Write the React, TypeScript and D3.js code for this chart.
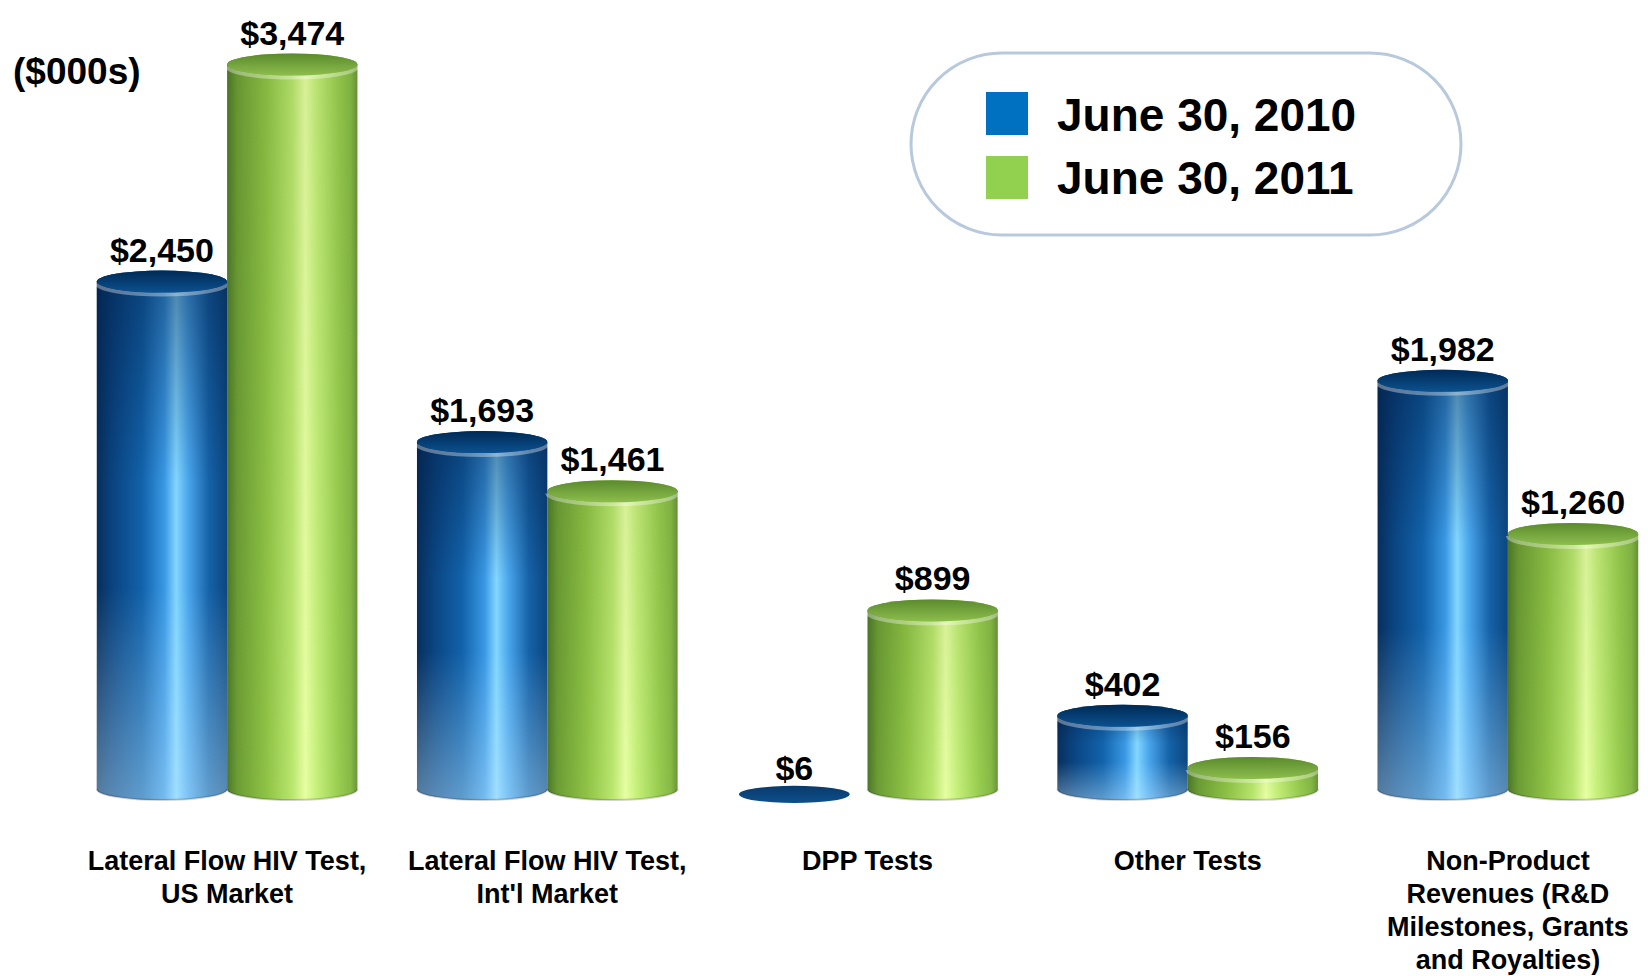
import React, { useEffect } from "react";
import * as d3 from "d3";

const categories = [
  "Lateral Flow HIV Test,\nUS Market",
  "Lateral Flow HIV Test,\nInt'l Market",
  "DPP Tests",
  "Other Tests",
  "Non-Product\nRevenues (R&D\nMilestones, Grants\nand Royalties)",
];
const seriesNames = ["June 30, 2010", "June 30, 2011"];
const values2010 = [2450, 1693, 6, 402, 1982];
const values2011 = [3474, 1461, 899, 156, 1260];
const seriesValues = [values2010, values2011];
const unitLabel = "($000s)";

const W = 1648;
const H = 976;
const FONT = "'Liberation Sans', Arial, sans-serif";

export default function App() {
  useEffect(() => {
    document.body.style.margin = "0";
  }, []);

  const x0 = d3
    .scaleBand<string>()
    .domain(categories)
    .range([67, 1668])
    .paddingInner(0.186)
    .paddingOuter(0.093);
  const x1 = d3.scaleBand<string>().domain(seriesNames).range([0, x0.bandwidth()]);
  const y = d3.scaleLinear().domain([0, 3500]).range([790, 48]);
  const ry = 11;
  const baseC = 789;
  const fmt = d3.format(",");

  const bars: any[] = [];
  categories.forEach((cat, ci) => {
    seriesNames.forEach((s, si) => {
      const v = seriesValues[si][ci];
      const l = (x0(cat) as number) + (x1(s) as number);
      const w = x1.bandwidth();
      const r = l + w;
      const cx = (l + r) / 2;
      const rx = w / 2;
      const topEdge = y(v);
      const topC = topEdge + ry;
      const key = `${ci}-${si}`;
      const pref = si === 0 ? "blue" : "green";
      if (topC >= baseC - 2) {
        const cy = (topC + baseC) / 2;
        bars.push(
          <g key={key}>
            <ellipse cx={cx - 8} cy={cy} rx={rx * 0.85} ry={ry * 0.78} fill={`url(#${pref}Disc)`} />
            <text x={cx - 8} y={cy - ry * 0.78 - 6} textAnchor="middle" fontFamily={FONT} fontWeight="bold" fontSize={34} fill="#000">
              {"$" + fmt(v)}
            </text>
          </g>
        );
        return;
      }
      const body = `M${l},${topC} L${l},${baseC} A${rx},${ry} 0 0 0 ${r},${baseC} L${r},${topC} A${rx},${ry} 0 0 0 ${l},${topC} Z`;
      const frontTop = `M${l},${topC} A${rx},${ry} 0 0 0 ${r},${topC}`;
      const frontBottom = `M${l},${baseC} A${rx},${ry} 0 0 0 ${r},${baseC}`;
      bars.push(
        <g key={key}>
          <path d={body} fill={`url(#${pref}H)`} />
          <path d={body} fill={`url(#${pref}V)`} />
          <path d={frontBottom} fill="none" stroke="rgba(0,0,0,0.18)" strokeWidth={2} />
          <path d={frontTop} fill="none" stroke="rgba(255,255,255,0.35)" strokeWidth={4} transform="translate(0,2)" />
          <ellipse cx={cx} cy={topC} rx={rx} ry={ry} fill={`url(#${pref}Top)`} />
          <text x={cx} y={topEdge - 9} textAnchor="middle" fontFamily={FONT} fontWeight="bold" fontSize={34} fill="#000">
            {"$" + fmt(v)}
          </text>
        </g>
      );
    });
  });

  const legendColors = ["#0070c0", "#92d050"];

  return (
    <svg width={W} height={H} style={{ display: "block" }} xmlns="http://www.w3.org/2000/svg">
      <defs>
        <linearGradient id="blueH" x1="0" y1="0" x2="1" y2="0">
          <stop offset="0" stopColor="#072f5c" />
          <stop offset="0.12" stopColor="#0a4380" />
          <stop offset="0.35" stopColor="#1263ab" />
          <stop offset="0.52" stopColor="#3a98e4" />
          <stop offset="0.61" stopColor="#82d6ff" />
          <stop offset="0.7" stopColor="#4ba6ec" />
          <stop offset="0.86" stopColor="#1562a8" />
          <stop offset="1" stopColor="#0c4680" />
        </linearGradient>
        <linearGradient id="blueV" x1="0" y1="0" x2="0" y2="1">
          <stop offset="0" stopColor="#001a40" stopOpacity="0.45" />
          <stop offset="0.4" stopColor="#001a40" stopOpacity="0" />
          <stop offset="0.6" stopColor="#c8ecff" stopOpacity="0" />
          <stop offset="1" stopColor="#c8ecff" stopOpacity="0.42" />
        </linearGradient>
        <linearGradient id="blueTop" x1="0" y1="0" x2="0" y2="1">
          <stop offset="0" stopColor="#002a55" />
          <stop offset="1" stopColor="#0b5190" />
        </linearGradient>
        <linearGradient id="blueDisc" x1="0" y1="0" x2="0" y2="1">
          <stop offset="0" stopColor="#0a3a6a" />
          <stop offset="1" stopColor="#0d4f8c" />
        </linearGradient>
        <linearGradient id="greenH" x1="0" y1="0" x2="1" y2="0">
          <stop offset="0" stopColor="#4d7829" />
          <stop offset="0.08" stopColor="#6c9d35" />
          <stop offset="0.3" stopColor="#8ec245" />
          <stop offset="0.5" stopColor="#b9e66d" />
          <stop offset="0.6" stopColor="#e6ffa2" />
          <stop offset="0.69" stopColor="#c5ef79" />
          <stop offset="0.86" stopColor="#97cc4e" />
          <stop offset="0.95" stopColor="#86b946" />
          <stop offset="1" stopColor="#6a9637" />
        </linearGradient>
        <linearGradient id="greenV" x1="0" y1="0" x2="0" y2="1">
          <stop offset="0" stopColor="#2a4010" stopOpacity="0.08" />
          <stop offset="1" stopColor="#2a4010" stopOpacity="0" />
        </linearGradient>
        <linearGradient id="greenTop" x1="0" y1="0" x2="0" y2="1">
          <stop offset="0" stopColor="#5b8a2d" />
          <stop offset="1" stopColor="#8cbd4c" />
        </linearGradient>
        <linearGradient id="greenDisc" x1="0" y1="0" x2="0" y2="1">
          <stop offset="0" stopColor="#6c9d35" />
          <stop offset="1" stopColor="#9ad050" />
        </linearGradient>
      </defs>
      <rect x={0} y={0} width={W} height={H} fill="#fff" />

      <text x={13} y={84} fontFamily={FONT} fontWeight="bold" fontSize={37} fill="#000">
        {unitLabel}
      </text>

      {bars}

      {categories.map((cat) => {
        const cx = (x0(cat) as number) + x0.bandwidth() / 2;
        return (
          <text key={cat} x={cx} y={870} textAnchor="middle" fontFamily={FONT} fontWeight="bold" fontSize={27} fill="#000">
            {cat.split("\n").map((line, i) => (
              <tspan key={i} x={cx} dy={i === 0 ? 0 : 33}>
                {line}
              </tspan>
            ))}
          </text>
        );
      })}

      <rect x={911} y={53} width={550} height={182} rx={91} ry={91} fill="#fff" stroke="#b9c9dd" strokeWidth={3} />
      {seriesNames.map((s, i) => (
        <g key={s}>
          <rect x={986} y={92 + i * 64} width={42} height={43} fill={legendColors[i]} />
          <text x={1057} y={131 + i * 63} fontFamily={FONT} fontWeight="bold" fontSize={46} fill="#000">
            {s}
          </text>
        </g>
      ))}
    </svg>
  );
}
